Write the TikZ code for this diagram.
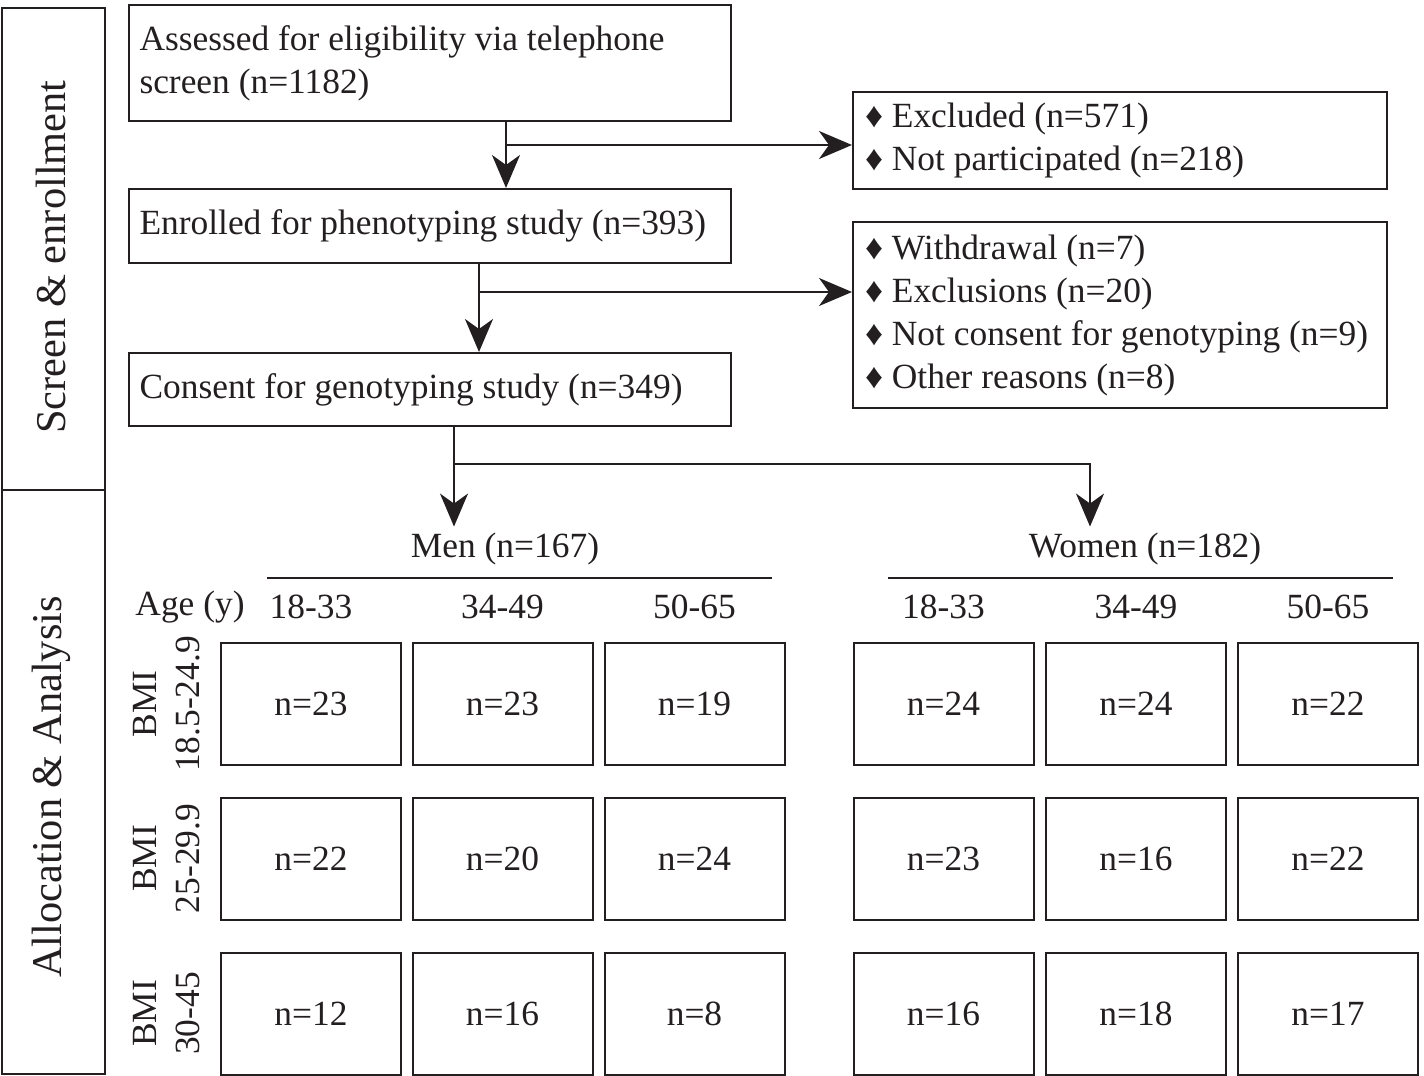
\documentclass[tikz,border=0pt]{standalone}
\usepackage{fontspec}
\setmainfont{Liberation Serif}
\usetikzlibrary{arrows.meta}
\definecolor{ink}{HTML}{231F20}
\tikzset{
  flowbox/.style={draw=ink, line width=1pt, text=ink, inner xsep=5.5pt, align=flush left},
  listbox/.style={draw=ink, line width=1pt, text=ink, inner xsep=6pt, text width=255pt, align=flush left},
  sidebox/.style={draw=ink, line width=1pt, minimum width=51.5pt},
  sidetext/.style={rotate=90, text=ink, font=\fontsize{21.2pt}{24pt}\selectfont},
  cell/.style={draw=ink, line width=1pt, text=ink, minimum width=90pt, minimum height=61pt},
  bmilabel/.style={rotate=90, align=center, text=ink, inner sep=0pt},
  arr/.style={draw=ink, line width=1pt, -{Stealth[length=16.5pt, width=14pt, inset=5pt]}}
}
\begin{document}
\begin{tikzpicture}[x=0.5pt, y=-0.5pt, font=\fontsize{17.7pt}{21.5pt}\selectfont]
  \useasboundingbox (0,0) rectangle (1424,1076);
  % phase labels
  \node[sidebox, minimum height=241pt] (screen) at (53.5,249) {};
  \node[sidetext] (screen-t) at (51,257) {Screen \& enrollment};
  \node[sidebox, minimum height=292pt] (alloc) at (53.5,782) {};
  \node[sidetext] (alloc-t) at (51,787) {Allocation \& Analysis};
  % main flow
  \node[flowbox, text width=290pt, minimum height=58pt] (assess) at (429.5,63) {Assessed for eligibility via telephone\\screen (n=1182)};
  \node[flowbox, text width=290pt, minimum height=37pt] (enrol) at (429.5,226) {Enrolled for phenotyping study (n=393)};
  \node[flowbox, text width=290pt, minimum height=36.5pt] (cons) at (429.5,389.5) {Consent for genotyping study (n=349)};
  \node[listbox, minimum height=48.5pt] (excl) at (1120,140.5) {♦ Excluded (n=571)\\♦ Not participated (n=218)};
  \node[listbox, minimum height=93pt] (drop) at (1120,315) {♦ Withdrawal (n=7)\\♦ Exclusions (n=20)\\♦ Not consent for genotyping (n=9)\\♦ Other reasons (n=8)};
  \coordinate (j1) at (506,145);
  \coordinate (j2) at (479,292);
  \coordinate (j3) at (454,464);
  \coordinate (j4) at (1090,464);
  \draw[arr] (assess.south -| j1) -- (enrol.north -| j1);
  \draw[arr] (j1) -- (j1 -| excl.west);
  \draw[arr] (enrol.south -| j2) -- (cons.north -| j2);
  \draw[arr] (j2) -- (j2 -| drop.west);
  % groups
  \node[text=ink, inner sep=3pt] (men) at (505,549) {Men (n=167)};
  \node[text=ink, inner sep=3pt] (women) at (1145,549) {Women (n=182)};
  \draw[arr] (cons.south -| j3) -- (men.north -| j3);
  \draw[arr] (j3) -- (j4) -- (women.north -| j4);
  \draw[ink, line width=1pt] (267,578) -- (772,578);
  \draw[ink, line width=1pt] (888,578) -- (1393,578);
  \node[text=ink] (age) at (190,607) {Age (y)};
  \foreach \ax/\lab [count=\c] in {311/18-33, 502.5/34-49, 694.5/50-65, 943.5/18-33, 1136/34-49, 1328/50-65}
    \node[text=ink] (age-\c) at (\ax,607) {\lab};
  % cells
  \foreach \y/\bmi/\vals [count=\r] in {704/18.5-24.9/{23,23,19,24,24,22}, 858.5/25-29.9/{22,20,24,23,16,22}, 1013.5/30-45/{12,16,8,16,18,17}} {
    \node[bmilabel] (bmi-\r) at (167,\y) {BMI\\\bmi};
    \foreach \v [count=\c] in \vals {
      \pgfmathsetmacro\cx{{311,502.5,694.5,943.5,1136,1328}[\c-1]}
      \node[cell] (cell-\r-\c) at (\cx,\y) {n=\v};
    }
  }
\end{tikzpicture}
\end{document}
